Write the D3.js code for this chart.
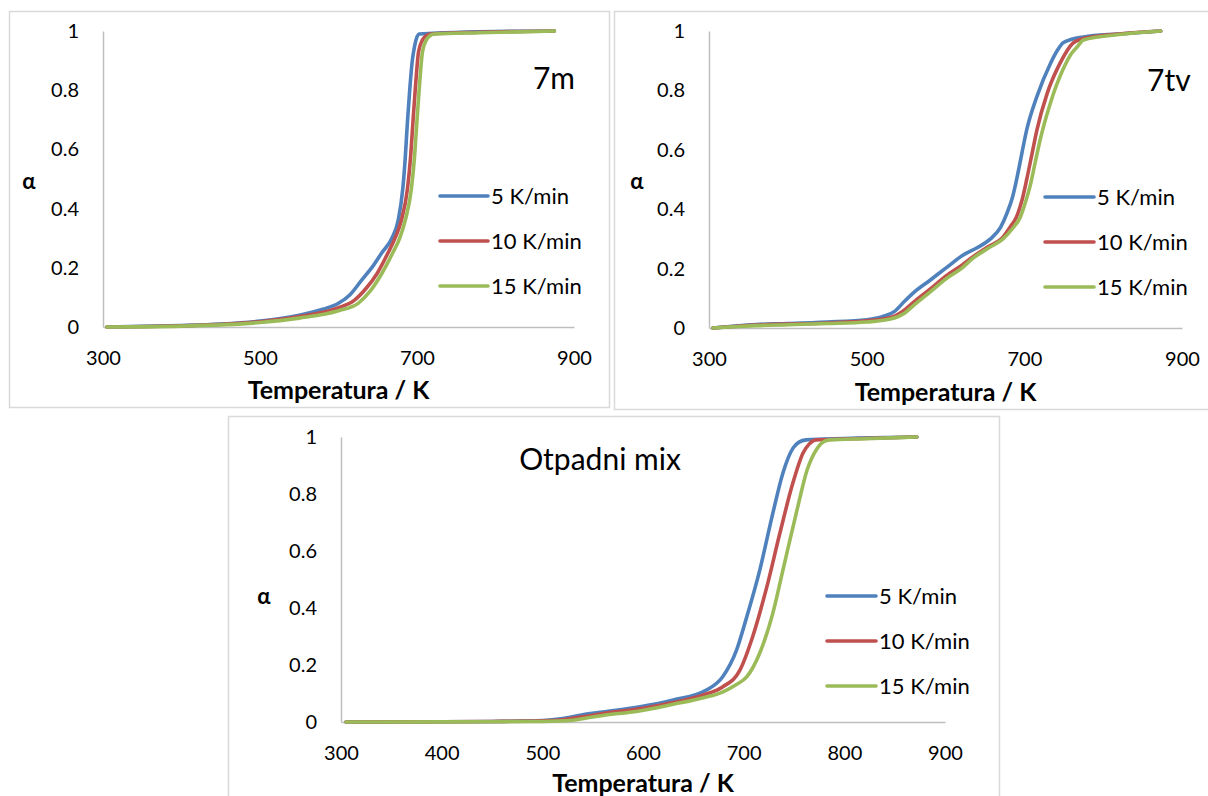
<!DOCTYPE html>
<html><head><meta charset="utf-8">
<script src="https://cdn.jsdelivr.net/npm/d3@7"></script>
<style>
html,body{margin:0;padding:0;background:#fff;}
svg{display:block;}
text{font-family:Lato,"Open Sans",sans-serif;fill:#000;}
</style></head>
<body>
<svg id="chart" width="1208" height="796"></svg>
<script>
// ---------- data ----------
const seriesNames = ["5 K/min", "10 K/min", "15 K/min"];
const seriesColors = ["#4F81BD", "#C0504D", "#9BBB59"];
const yTicks = [0, 0.2, 0.4, 0.6, 0.8, 1];
const xTicksWide = [300, 500, 700, 900];
const xTicksFine = [300, 400, 500, 600, 700, 800, 900];

// Panel "7m"
const m7_T5 = [305, 350, 400, 450, 500, 550, 580, 600, 615, 630, 645, 655, 668, 676, 682, 685, 688, 691, 694, 697, 700, 703, 720, 780, 875];
const m7_a5 = [0, 0.002, 0.005, 0.01, 0.02, 0.04, 0.06, 0.08, 0.11, 0.16, 0.21, 0.25, 0.30, 0.36, 0.47, 0.57, 0.70, 0.81, 0.90, 0.95, 0.98, 0.99, 0.992, 0.997, 1.0];
const m7_T10 = [305, 400, 500, 550, 600, 620, 635, 649, 663, 672, 680, 688, 692, 695, 698, 702, 707, 712, 718, 780, 875];
const m7_a10 = [0, 0.004, 0.018, 0.035, 0.065, 0.09, 0.13, 0.18, 0.25, 0.30, 0.36, 0.47, 0.58, 0.70, 0.81, 0.93, 0.97, 0.985, 0.99, 0.996, 1.0];
const m7_T15 = [305, 400, 500, 550, 600, 625, 640, 655, 669, 678, 685, 693, 697, 700, 703, 707, 712, 717, 722, 780, 875];
const m7_a15 = [0, 0.003, 0.015, 0.03, 0.055, 0.08, 0.12, 0.18, 0.25, 0.30, 0.36, 0.47, 0.58, 0.70, 0.81, 0.93, 0.97, 0.985, 0.99, 0.994, 1.0];

// Panel "7tv"
const tv_T5 = [305, 330, 360, 400, 450, 500, 520, 535, 548, 560, 580, 602, 622, 640, 657, 670, 678, 685, 691, 697, 703, 716, 733, 742, 749, 760, 775, 820, 873];
const tv_a5 = [0, 0.006, 0.012, 0.015, 0.02, 0.028, 0.038, 0.055, 0.09, 0.12, 0.16, 0.205, 0.245, 0.27, 0.30, 0.34, 0.387, 0.44, 0.51, 0.59, 0.667, 0.78, 0.89, 0.935, 0.96, 0.972, 0.98, 0.99, 1.0];
const tv_T10 = [305, 330, 360, 400, 450, 500, 530, 545, 560, 580, 602, 620, 635, 655, 673, 682, 690, 697, 703, 710, 716, 729, 745, 762, 775, 820, 873];
const tv_a10 = [0, 0.005, 0.01, 0.013, 0.017, 0.024, 0.035, 0.055, 0.088, 0.13, 0.178, 0.21, 0.24, 0.275, 0.306, 0.34, 0.374, 0.43, 0.50, 0.59, 0.667, 0.79, 0.89, 0.96, 0.975, 0.99, 1.0];
const tv_T15 = [305, 330, 360, 400, 450, 500, 530, 548, 560, 580, 602, 620, 635, 655, 673, 685, 695, 701, 707, 714, 720, 733, 749, 760, 767, 775, 820, 873];
const tv_a15 = [0, 0.004, 0.008, 0.011, 0.015, 0.02, 0.03, 0.05, 0.077, 0.12, 0.168, 0.2, 0.235, 0.27, 0.30, 0.335, 0.374, 0.42, 0.475, 0.56, 0.633, 0.757, 0.87, 0.925, 0.946, 0.97, 0.988, 1.0];

// Panel "Otpadni mix"
const mix_T5 = [305, 400, 450, 500, 520, 540, 560, 597, 630, 663, 679, 693, 703, 716, 729, 739, 749, 755, 762, 800, 872];
const mix_a5 = [0, 0.001, 0.002, 0.005, 0.012, 0.025, 0.035, 0.053, 0.077, 0.112, 0.158, 0.253, 0.368, 0.533, 0.733, 0.874, 0.961, 0.982, 0.99, 0.995, 1.0];
const mix_T10 = [305, 400, 450, 500, 520, 540, 560, 600, 630, 660, 679, 696, 709, 723, 736, 749, 759, 765, 772, 800, 872];
const mix_a10 = [0, 0.001, 0.002, 0.004, 0.008, 0.018, 0.03, 0.048, 0.068, 0.095, 0.123, 0.18, 0.30, 0.474, 0.663, 0.84, 0.944, 0.975, 0.99, 0.993, 1.0];
const mix_T15 = [305, 400, 450, 500, 530, 545, 560, 595, 630, 660, 679, 692, 703, 716, 729, 739, 753, 763, 773, 778, 785, 820, 872];
const mix_a15 = [0, 0.0005, 0.001, 0.002, 0.006, 0.015, 0.023, 0.038, 0.062, 0.085, 0.105, 0.13, 0.158, 0.242, 0.382, 0.533, 0.744, 0.884, 0.96, 0.98, 0.99, 0.994, 1.0];

const panelLabels = ["7m", "7tv", "Otpadni mix"];
const xTitle = "Temperatura / K";
const yTitle = "α";

// ---------- layout ----------
const panels = [
  { label: panelLabels[0], T: [m7_T5, m7_T10, m7_T15], A: [m7_a5, m7_a10, m7_a15], ticks: xTicksWide,
    box: [9, 11, 600, 396], plot: { x0: 103, x1: 574, y0: 327, y1: 31 },
    labelPos: [554, 89, "middle"], legend: { x0: 440, x1: 488, ys: [196, 241, 286] }, alpha: [29, 183], titleY: 399 },
  { label: panelLabels[1], T: [tv_T5, tv_T10, tv_T15], A: [tv_a5, tv_a10, tv_a15], ticks: xTicksWide,
    box: [614, 11, 610, 398], plot: { x0: 709, x1: 1182, y0: 328, y1: 31 },
    labelPos: [1147, 91, "start"], legend: { x0: 1045, x1: 1094, ys: [197, 242, 287] }, alpha: [637, 183], titleY: 401 },
  { label: panelLabels[2], T: [mix_T5, mix_T10, mix_T15], A: [mix_a5, mix_a10, mix_a15], ticks: xTicksFine,
    box: [228, 416, 771, 400], plot: { x0: 341, x1: 945, y0: 722, y1: 437 },
    labelPos: [600, 470, "middle"], legend: { x0: 827, x1: 876, ys: [596, 641, 686] }, alpha: [264, 598], titleY: 792 }
];

const svg = d3.select("#chart");

panels.forEach(p => {
  const g = svg.append("g");
  g.append("rect").attr("x", p.box[0] + 0.5).attr("y", p.box[1] + 0.5)
    .attr("width", p.box[2]).attr("height", p.box[3])
    .attr("fill", "#fff").attr("stroke", "#D9D9D9").attr("stroke-width", 1.5);

  const x = d3.scaleLinear().domain([300, 900]).range([p.plot.x0, p.plot.x1]);
  const y = d3.scaleLinear().domain([0, 1]).range([p.plot.y0, p.plot.y1]);

  const xa = g.append("g").attr("transform", `translate(0,${p.plot.y0})`)
    .call(d3.axisBottom(x).tickValues(p.ticks).tickSize(0).tickSizeOuter(0).tickPadding(24).tickFormat(d3.format("d")));
  const ya = g.append("g").attr("transform", `translate(${p.plot.x0},0)`)
    .call(d3.axisLeft(y).tickValues(yTicks).tickSize(0).tickSizeOuter(0).tickPadding(24).tickFormat(d => d === 0 ? "0" : d === 1 ? "1" : d3.format(".1f")(d)));
  [xa, ya].forEach(a => {
    a.select(".domain").attr("stroke", "#BFBFBF").attr("stroke-width", 1.5);
    a.selectAll("text").style("font-family", "Lato, sans-serif").style("font-size", "20px").attr("fill", "#000");
  });

  const line = d3.line().x(d => x(d[0])).y(d => y(d[1])).curve(d3.curveMonotoneX);
  p.T.forEach((Ts, i) => {
    const pts = Ts.map((t, k) => [t, p.A[i][k]]);
    g.append("path").datum(pts).attr("d", line)
      .attr("fill", "none").attr("stroke", seriesColors[i]).attr("stroke-width", 3.6)
      .attr("stroke-linejoin", "round").attr("stroke-linecap", "round");
  });

  seriesNames.forEach((n, i) => {
    const ly = p.legend.ys[i];
    g.append("line").attr("x1", p.legend.x0).attr("x2", p.legend.x1).attr("y1", ly).attr("y2", ly)
      .attr("stroke", seriesColors[i]).attr("stroke-width", 3.6).attr("stroke-linecap", "round");
    g.append("text").attr("x", p.legend.x1 + 3).attr("y", ly + 7.5).style("font-size", "22px").text(n);
  });

  g.append("text").attr("x", p.labelPos[0]).attr("y", p.labelPos[1]).attr("text-anchor", p.labelPos[2])
    .style("font-size", "30px").text(p.label);

  g.append("text").attr("x", (p.plot.x0 + p.plot.x1) / 2).attr("y", p.titleY).attr("text-anchor", "middle")
    .style("font-size", "25px").style("font-weight", "bold").text(xTitle);
  g.append("text").attr("x", p.alpha[0]).attr("y", p.alpha[1] + 6).attr("text-anchor", "middle")
    .style("font-size", "22px").style("font-weight", "bold").text(yTitle);
});
</script>
</body></html>
